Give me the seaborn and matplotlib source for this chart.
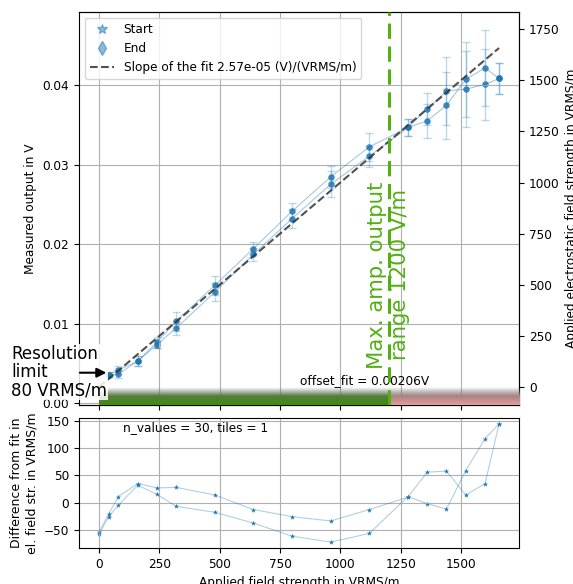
import numpy as np
import seaborn as sns
import matplotlib.pyplot as plt
import matplotlib.colors as mcolors
from matplotlib.lines import Line2D

# ---------------- data ----------------
field = [40, 80, 160, 240, 320, 480, 640, 800, 960, 1120, 1280, 1360, 1440, 1520, 1600, 1658]
v_start = [0.0036, 0.0042, 0.0053, 0.0077, 0.01035, 0.01484, 0.01946, 0.02415, 0.02847, 0.03224,
           0.03468, 0.03698, 0.03928, 0.0395, 0.04009, 0.04084]
err_start = [0.0003, 0.0005, 0.0006, 0.0007, 0.0012, 0.00117, 0.00084, 0.00105, 0.00134, 0.00176,
             0.00113, 0.0020, 0.0043, 0.0048, 0.0045, 0.0019]
v_end = [0.0036, 0.0037, 0.0053, 0.0074, 0.00947, 0.0140, 0.01874, 0.02323, 0.02755, 0.03107,
         0.03468, 0.03551, 0.03748, 0.04072, 0.04218, 0.04084]
err_end = [0.0003, 0.0005, 0.0006, 0.0004, 0.00092, 0.00113, 0.00084, 0.00117, 0.0016, 0.00134,
           0.00113, 0.0021, 0.0042, 0.0047, 0.0048, 0.0019]

field_diff = [0, 40, 80, 160, 240, 320, 480, 640, 800, 960, 1120, 1280, 1360, 1440, 1520, 1600, 1658]
diff_start = [-55, -21, 11, 35, 27, 28, 14, -13, -26, -34, -13, 10, 56, 58, 14, 35, 145]
diff_end = [-58, -26, -5, 32, 15, -7, -18, -38, -62, -73, -57, 11, -2, -12, 59, 118, 145]

slope = 2.57e-05
offset = 0.00206
amp_limit = 1200
res_limit = 80
n_values = 30
tiles = 1

# ---------------- style ----------------
plt.rcParams["font.size"] = 8.7
plt.rcParams["font.family"] = ["DejaVu Sans"]
blue = "#1f77b4"
green = "#52b013"

fig = plt.figure(figsize=(5.73, 5.84), dpi=100)
ax1 = fig.add_axes([0.1379, 0.3065, 0.768, 0.673])
ax3 = fig.add_axes([0.1379, 0.0616, 0.768, 0.2226], sharex=ax1)
ax2 = ax1.twinx()

x_lo, x_hi = -83, 1741
v_lo, v_hi = -0.0002, 0.0492
f_lo, f_hi = (v_lo - offset) / slope, (v_hi - offset) / slope

# ---------------- top: measured output ----------------
for v, e in [(v_start, err_start), (v_end, err_end)]:
    ax1.errorbar(field, v, yerr=e, fmt="none", ecolor=blue, alpha=0.28, capsize=3, lw=1)
    sns.lineplot(x=field, y=v, ax=ax1, sort=False, estimator=None, color=blue, alpha=0.4, lw=0.8)
    sns.scatterplot(x=field, y=v, ax=ax1, color=blue, alpha=0.85, s=22, linewidth=0)

fit_x = np.array([0, max(field)])
ax1.plot(fit_x, offset + slope * fit_x, "--", color="#333333", alpha=0.85, lw=1.5)

handles = [
    Line2D([], [], marker="*", ls="none", color=blue, alpha=0.5, ms=7, label="Start"),
    Line2D([], [], marker="d", ls="none", color=blue, alpha=0.5, ms=7, label="End"),
    Line2D([], [], ls="--", color="#333333", alpha=0.85, lw=1.5,
           label=f"Slope of the fit {slope:.2e} (V)/(VRMS/m)"),
]
ax1.legend(handles=handles, loc="upper left")

ax1.set_ylabel("Measured output in V")
ax1.set_ylim(v_lo, v_hi)
ax1.grid(True)
ax1.tick_params(labelbottom=False)
ax1.text(833, offset, f"offset_fit = {offset}V", va="bottom", ha="left")


# colour bar along the bottom: usable range green, beyond red
def shade(colour, n=40):
    r = np.linspace(0, 1, n)[:, None]
    gray = np.array([0.42, 0.42, 0.42])
    base = np.array(mcolors.to_rgb(colour))
    rgb = gray * (1 - r) + base * r
    a = np.clip(r * 2.0, 0, 1)
    return np.concatenate([rgb, a], axis=1)[:, None, :]


ax2.imshow(shade("#3f8e0c"), extent=[0, amp_limit, f_lo, 0], aspect="auto", zorder=3)
ax2.imshow(shade("#e79b9b"), extent=[amp_limit, x_hi, f_lo, 0], aspect="auto", zorder=3)
ax2.axvline(amp_limit, color=green, ls=(0, (5, 2.5)), lw=2.2, zorder=4)
ax2.text(amp_limit, 90, f"Max. amp. output\nrange {amp_limit} V/m", rotation=90,
         ha="center", va="bottom", color=green, fontsize=15.3, zorder=5)
ax2.set_ylim(f_lo, f_hi)
ax2.set_ylabel("Applied electrostatic field strength in VRMS/m")
ax2.spines["left"].set_visible(False)

ax2.text(-365, 73, f"Resolution\nlimit\n{res_limit} VRMS/m", fontsize=12, ha="left", va="center",
         linespacing=1.0, bbox=dict(facecolor="white", edgecolor="none", alpha=0.85, pad=1),
         zorder=6, clip_on=False)
ax2.annotate("", xy=(42, 70), xytext=(-91, 70), annotation_clip=False, zorder=7,
             arrowprops=dict(arrowstyle="-|>", color="black", lw=1.5, mutation_scale=14))

# ---------------- bottom: residuals ----------------
for d in [diff_start, diff_end]:
    sns.lineplot(x=field_diff, y=d, ax=ax3, sort=False, estimator=None, color=blue, alpha=0.35, lw=0.8)
    sns.scatterplot(x=field_diff, y=d, ax=ax3, color=blue, marker="*", s=16, linewidth=0)

ax3.grid(True)
ax3.set_ylabel("Difference from fit in\nel. field str. in VRMS/m", fontsize=9)
ax3.set_xlabel("Applied field strength in VRMS/m")
ax3.text(0.264, 0.93, f"n_values = {n_values}, tiles = {tiles}", transform=ax3.transAxes,
         ha="center", va="center")

ax1.set_xlim(x_lo, x_hi)

fig.savefig("out.png", dpi=100)
